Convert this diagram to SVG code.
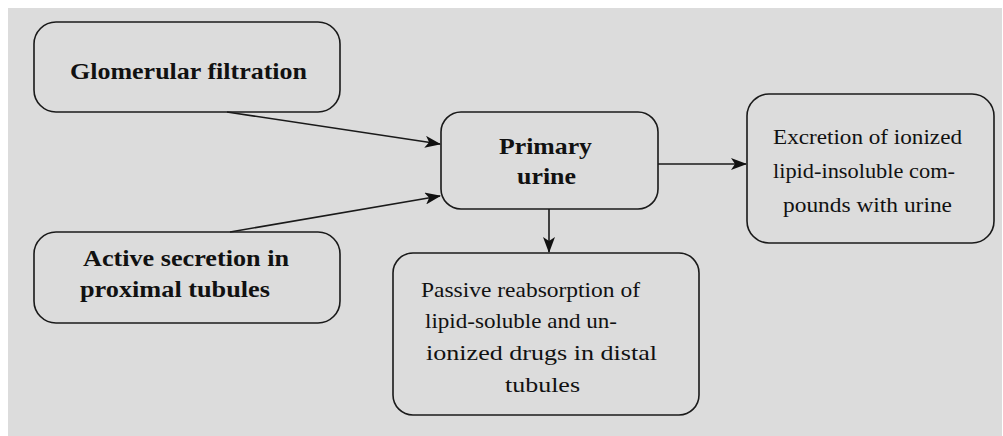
<svg xmlns="http://www.w3.org/2000/svg" width="1003" height="436" viewBox="0 0 1003 436">
  <style>
    .box { fill: none; stroke: #1a1a1a; stroke-width: 1.6; }
    text { font-family: 'Liberation Serif', 'Times New Roman', serif; fill: #111; }
    .b { font-weight: bold; font-size: 24px; }
    .r { font-size: 21px; }
    .edge { stroke: #1a1a1a; stroke-width: 1.6; fill: none; marker-end: url(#arr); }
  </style>
  <defs>
    <marker id="arr" viewBox="0 0 16 12" refX="15" refY="6" markerWidth="16" markerHeight="12" markerUnits="userSpaceOnUse" orient="auto">
      <path d="M0,0 L16,6 L0,12 L4,6 z" fill="#111"/>
    </marker>
  </defs>

  <rect x="0" y="0" width="1003" height="436" fill="#ffffff"/>
  <rect x="8" y="8" width="994" height="428" fill="#dcdcdc"/>

  <g id="connectors">
    <line class="edge" x1="227" y1="112" x2="440" y2="144"/>
    <line class="edge" x1="230" y1="232" x2="440" y2="196"/>
    <line class="edge" x1="658" y1="164" x2="746" y2="164"/>
    <line class="edge" x1="549" y1="209" x2="549" y2="252"/>
  </g>

  <g id="glomerular">
    <rect class="box" x="34" y="22" width="306" height="90" rx="22"/>
    <text class="b" x="70" y="79" textLength="237" lengthAdjust="spacingAndGlyphs">Glomerular filtration</text>
  </g>

  <g id="active-secretion">
    <rect class="box" x="34" y="232" width="306" height="91" rx="22"/>
    <text class="b" x="83" y="266" textLength="206" lengthAdjust="spacingAndGlyphs">Active secretion in</text>
    <text class="b" x="80" y="297" textLength="190" lengthAdjust="spacingAndGlyphs">proximal tubules</text>
  </g>

  <g id="primary-urine">
    <rect class="box" x="441" y="112" width="217" height="97" rx="20"/>
    <text class="b" x="499" y="154" textLength="93" lengthAdjust="spacingAndGlyphs">Primary</text>
    <text class="b" x="517" y="184" textLength="59" lengthAdjust="spacingAndGlyphs">urine</text>
  </g>

  <g id="excretion">
    <rect class="box" x="747" y="94" width="247" height="149" rx="22"/>
    <text class="r" x="773" y="144" textLength="189" lengthAdjust="spacingAndGlyphs">Excretion of ionized</text>
    <text class="r" x="773" y="178" textLength="182" lengthAdjust="spacingAndGlyphs">lipid-insoluble com-</text>
    <text class="r" x="783" y="212" textLength="169" lengthAdjust="spacingAndGlyphs">pounds with urine</text>
  </g>

  <g id="passive-reabsorption">
    <rect class="box" x="393" y="253" width="306" height="162" rx="20"/>
    <text class="r" x="421" y="297" textLength="219" lengthAdjust="spacingAndGlyphs">Passive reabsorption of</text>
    <text class="r" x="425" y="328" textLength="192" lengthAdjust="spacingAndGlyphs">lipid-soluble and un-</text>
    <text class="r" x="426" y="360" textLength="231" lengthAdjust="spacingAndGlyphs">ionized drugs in distal</text>
    <text class="r" x="505" y="392" textLength="75" lengthAdjust="spacingAndGlyphs">tubules</text>
  </g>
</svg>
